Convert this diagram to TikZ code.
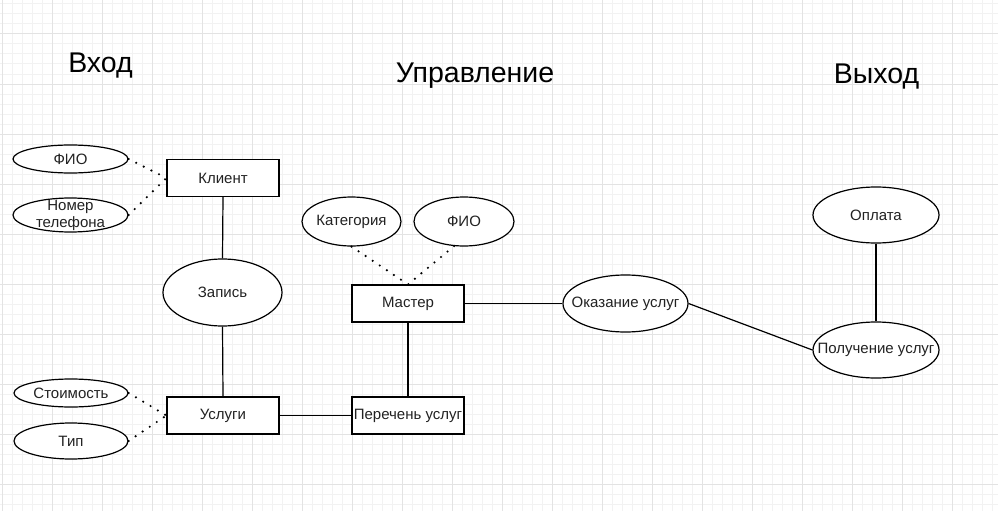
\documentclass[tikz,border=0pt]{standalone}
\usepackage{fontspec}
\setmainfont{Liberation Sans}
\usetikzlibrary{shapes.geometric}
\definecolor{gridminor}{HTML}{F2F2F2}
\definecolor{gridmajor}{HTML}{E3E3E3}
\definecolor{txt}{HTML}{222222}
\begin{document}
\begin{tikzpicture}[x=1pt,y=-1pt,
  ent/.style={draw=black,line width=1.2pt,fill=white,rectangle,inner sep=0pt,
    minimum width=112pt,minimum height=37pt,font=\fontsize{15}{17}\selectfont,text=txt},
  attr/.style={draw=black,line width=1.2pt,fill=white,ellipse,inner sep=0pt},
  atxt/.style={font=\fontsize{15}{17}\selectfont,text=txt,align=center,inner sep=0pt},
  conn/.style={line width=1.2pt,draw=black},
  dotconn/.style={line width=2.4pt,draw=black,line cap=round,dash pattern=on 0pt off 8.5pt},
  title/.style={font=\fontsize{28.5}{33}\selectfont,anchor=base,text=black}]
\useasboundingbox (0,0) rectangle (998,511);
\fill[white] (0,0) rectangle (998,511);
% grid
\foreach \x in {2,12,...,992} \draw[gridminor,line width=1pt] (\x,0) -- (\x,511);
\foreach \y in {4,14,...,504} \draw[gridminor,line width=1pt] (0,\y) -- (998,\y);
\foreach \x in {2,52,...,952} \draw[gridmajor,line width=1pt] (\x,0) -- (\x,511);
\foreach \y in {34,84,...,484} \draw[gridmajor,line width=1pt] (0,\y) -- (998,\y);
% titles
\node[title] (tin) at (100.5,73) {Вход};
\node[title] (tctl) at (475,82) {Управление};
\node[title] (tout) at (876.5,83) {Выход};
% nodes
\node[ent] (klient) at (223,178) {Клиент};
\node[attr,minimum width=115pt,minimum height=28pt,label={[atxt]center:ФИО}] (fio1) at (70.5,159) {};
\node[attr,minimum width=115pt,minimum height=34pt,label={[atxt]center:Номер\\телефона}] (nomer) at (70.5,215) {};
\node[attr,minimum width=119pt,minimum height=67pt,label={[atxt]center:Запись}] (zapis) at (222.5,292.5) {};
\node[ent] (uslugi) at (223,415.5) {Услуги};
\node[attr,minimum width=114pt,minimum height=28pt,label={[atxt]center:Стоимость}] (stoim) at (71,393) {};
\node[attr,minimum width=114pt,minimum height=36pt,label={[atxt]center:Тип}] (tip) at (71,441) {};
\node[ent] (perechen) at (408,415.5) {Перечень услуг};
\node[ent] (master) at (408,303.5) {Мастер};
\node[attr,minimum width=99pt,minimum height=49pt,label={[atxt]center:Категория}] (kateg) at (351.5,221.5) {};
\node[attr,minimum width=100pt,minimum height=49pt,label={[atxt]center:ФИО}] (fio2) at (464,221.5) {};
\node[attr,minimum width=125pt,minimum height=57pt,label={[atxt]center:Оказание услуг}] (okaz) at (625.5,303.5) {};
\node[attr,minimum width=126pt,minimum height=56pt,label={[atxt]center:Оплата}] (oplata) at (876,215) {};
\node[attr,minimum width=126pt,minimum height=56pt,label={[atxt]center:Получение услуг}] (poluch) at (876,350) {};
% connectors
\draw[dotconn] (fio1.east) -- (klient.west);
\draw[dotconn] (nomer.east) -- (klient.west);
\draw[conn] (klient.south) -- (zapis.north);
\draw[conn] (zapis.south) -- (uslugi.north);
\draw[dotconn] (stoim.east) -- (uslugi.west);
\draw[dotconn] (tip.east) -- (uslugi.west);
\draw[conn] (uslugi.east) -- (perechen.west);
\draw[conn] (master.south) -- (perechen.north);
\draw[dotconn] (kateg.south) -- (master.north);
\draw[dotconn] (fio2.-112) -- (master.north);
\draw[conn] (master.east) -- (okaz.west);
\draw[conn] (okaz.east) -- (poluch.west);
\draw[conn] (oplata.south) -- (poluch.north);
\end{tikzpicture}
\end{document}
